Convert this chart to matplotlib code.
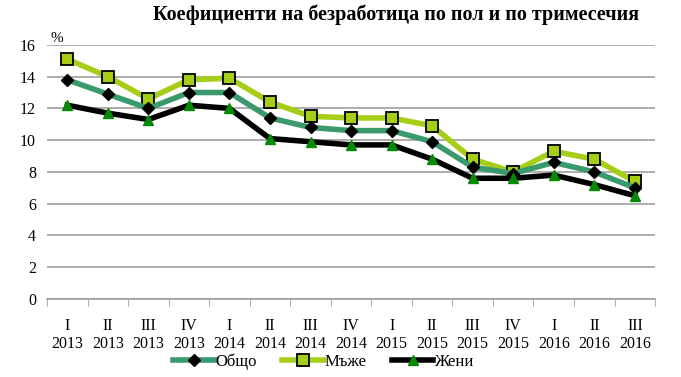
import numpy as np
import matplotlib
matplotlib.use('Agg')
import matplotlib.pyplot as plt

plt.rcParams['font.family'] = ['Liberation Serif', 'DejaVu Serif']

quarters = ['I', 'II', 'III', 'IV', 'I', 'II', 'III', 'IV', 'I', 'II', 'III', 'IV', 'I', 'II', 'III']
years = ['2013'] * 4 + ['2014'] * 4 + ['2015'] * 4 + ['2016'] * 3
total = [13.8, 12.9, 12.0, 13.0, 13.0, 11.4, 10.8, 10.6, 10.6, 9.9, 8.3, 7.9, 8.6, 8.0, 7.0]
men = [15.1, 14.0, 12.6, 13.8, 13.9, 12.4, 11.5, 11.4, 11.4, 10.9, 8.8, 8.0, 9.3, 8.8, 7.4]
women = [12.2, 11.7, 11.3, 12.2, 12.0, 10.1, 9.9, 9.7, 9.7, 8.8, 7.6, 7.6, 7.8, 7.2, 6.5]

fig = plt.figure(figsize=(6.81, 3.77), dpi=100)
ax = fig.add_axes([0.069, 0.207, 0.893, 0.674])

x = np.arange(len(quarters))
ax.plot(x, total, color='#3A9A6E', lw=4, marker='D', ms=6, mfc='black', mec='black', label='Общо', zorder=3)
ax.plot(x, men, color='#A6CE17', lw=4, marker='s', ms=8, mfc='#A6CE17', mec='black', mew=1.3, label='Мъже', zorder=2)
ax.plot(x, women, color='black', lw=4, marker='^', ms=7.5, mfc='#078A07', mec='#078A07', label='Жени', zorder=4)

ax.set_xlim(-0.5, len(quarters) - 0.5)
ax.set_ylim(0, 16)
ax.set_yticks(range(0, 17, 2))
ax.set_xticks(x)
ax.set_xticklabels([q + '\n' + y for q, y in zip(quarters, years)], fontsize=11.5, linespacing=1.12)
ax.set_xticks(np.arange(-0.5, len(quarters), 1), minor=True)
ax.tick_params(axis='x', which='major', length=0, pad=14)
ax.tick_params(axis='x', which='minor', length=5, color='#A0A0A0')
ax.tick_params(axis='y', length=0, labelsize=11.5, pad=8)
ax.grid(axis='y', color='#A0A0A0', lw=1.2)
ax.set_axisbelow(True)
for s in ['top', 'right', 'left']:
    ax.spines[s].set_visible(False)
ax.spines['bottom'].set_color('#A0A0A0')
ax.spines['bottom'].set_linewidth(1.2)

ax.text(0.005, 1.0, '%', transform=ax.transAxes, fontsize=11, va='bottom', ha='left')
fig.text(0.582, 0.962, 'Коефициенти на безработица по пол и по тримесечия',
         fontsize=14.5, fontweight='bold', ha='center', va='center')
fig.legend(loc='center', bbox_to_anchor=(0.475, 0.04), ncol=3, frameon=False, fontsize=12,
           handlelength=2.5, handletextpad=0.05, columnspacing=1.5, borderpad=0.1)

fig.savefig('out.png', dpi=100)
